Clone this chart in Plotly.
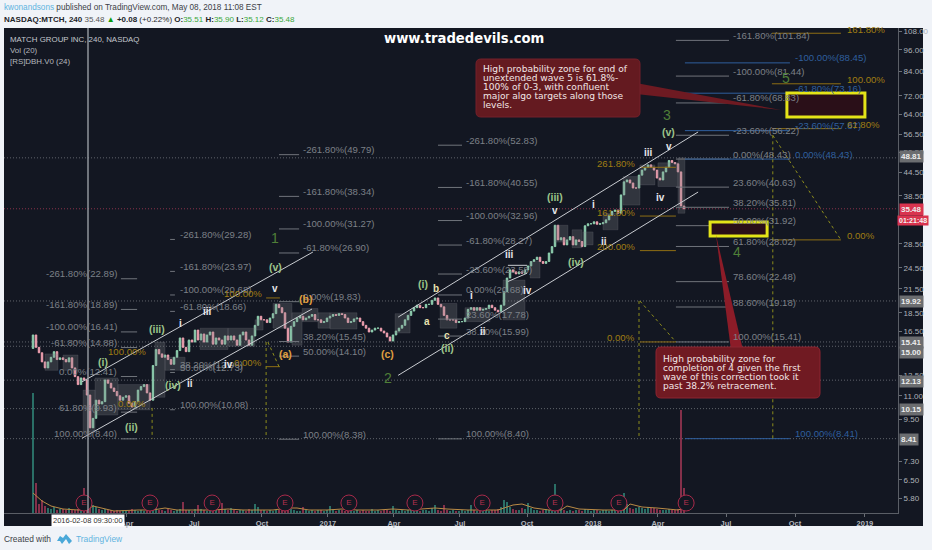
import math
import plotly.graph_objects as go

W, H = 932, 550
X_RANGE = [-9.67, 288.33]

closes = [
 16.1,14.9,14.4,13.6,13.1,13.6,14.0,14.5,13.8,13.95,
 13.8,13.6,13.95,13.1,12.4,11.8,12.3,12.15,11.05,9.0,
 9.55,10.7,10.45,10.6,12.15,11.9,11.55,11.3,11.0,10.7,
 10.9,11.0,10.5,10.25,10.6,11.4,11.65,11.8,11.2,10.7,
 13.3,14.7,14.3,14.0,14.2,13.8,13.4,14.0,14.6,15.8,
 14.9,14.5,15.6,15.4,16.6,15.6,16.2,15.4,16.1,16.4,
 15.2,15.8,15.6,15.2,16.0,15.6,16.0,15.6,15.1,16.1,
 16.4,15.6,15.1,16.0,17.1,18.1,17.7,17.7,17.4,17.9,
 18.4,19.5,19.1,18.5,16.8,15.4,17.0,17.5,17.9,18.1,
 17.7,17.9,18.1,18.3,17.7,17.7,17.4,17.5,17.9,18.1,
 18.3,18.2,18.4,18.3,17.9,17.4,17.5,17.8,17.9,17.5,
 17.1,16.8,16.4,16.6,16.8,16.8,16.5,16.3,15.9,15.5,
 16.1,16.5,16.8,17.1,17.7,18.2,18.7,19.1,19.4,19.1,
 19.1,19.5,19.5,20.0,20.3,19.5,19.2,18.2,17.7,17.7,
 17.7,17.4,17.5,17.5,17.9,18.9,19.1,18.8,19.1,18.8,
 18.9,19.0,19.4,19.1,18.8,18.6,19.4,21.1,23.0,24.2,
 23.9,23.6,23.9,23.7,24.2,24.8,25.5,25.8,26.2,25.5,
 25.2,25.5,26.9,28.0,32.0,29.2,29.6,28.3,29.2,29.8,
 28.3,29.2,28.9,28.0,31.9,32.3,32.3,32.7,32.2,32.3,
 32.5,33.1,34.1,34.9,35.2,34.5,38.7,42.0,42.5,41.7,
 40.4,40.4,43.8,45.2,46.0,46.7,46.0,45.2,43.0,42.5,
 44.7,46.0,48.0,47.4,47.0,44.7,36.1,35.48]
first_open = 14.8

volumes = [
 120,30,9,13,7,5,4,6,3,4, 4,3,5,3,3,4,4,25,6,9, 8,6,4,3,4,3,3,2,3,2,
 3,2,2,4,3,2,3,2,3,4, 7,5,3,3,2,4,3,2,3,4, 11,3,3,2,4,8,4,3,2,3,
 7,3,3,10,4,3,5,3,2,3, 3,2,4,3,9,6,3,3,2,3, 2,3,3,4,7,6,4,3,2,2,
 6,3,2,3,2,3,3,2,3,7, 4,2,3,3,2,3,2,2,3,2, 3,2,2,4,2,3,2,3,3,2,
 7,3,2,3,2,3,3,4,3,2, 3,3,2,5,8,3,2,8,3,2, 3,2,2,3,2,3,8,3,2,3,
 2,3,2,3,3,4,6,13,11,6, 4,3,3,5,4,10,5,3,3,2, 3,4,3,2,29,6,5,3,2,3,
 2,3,3,2,4,3,2,3,3,2, 3,3,2,3,3,3,5,20,9,5, 4,5,6,5,4,6,5,5,4,3,
 3,3,4,3,3,4,103,25]

vol_ma_bars = [0,3,6,10,15,18,20,23,27,35,40,44,48,55,60,65,70,75,80,85,88,92,98,103,108,115,120,125,134,138,145,155,160,163,167,172,176,178,182,190,197,199,203,208,212,215,217]
vol_ma_vals = [20,12,7,4,3,3,7,5,2,3,3,5,3,3,3,4,3,3,3,5,5,3,3,4,3,3,4,3,5,4,3,3,8,9,5,3,3,7,4,3,3,9,6,5,4,3,5]

cloud_start = [4,10,16.7,20.7,28.3,40.7,44,55.7,65,74,80,86.3,89.7,95,99,120.7,135.7,144,156.7,165.7,174,179.7,183.3,190,196.7,202.3,208.3,215]
cloud_end   = [8.3,15,20.7,28.3,39,44,50.7,65,74,76.7,86.3,89.7,95,99,108,125.7,141.3,152.3,164,169,178.3,183,186.7,195,202.3,207.3,215,217.3]
cloud_top   = [14.3,14.2,11.4,12.3,11.8,15.4,14,16.8,16.8,17.7,19.6,18.5,19,18.5,18.5,18.4,19.6,19.1,22.7,25.5,32,31.1,30.7,34.5,43.4,46.7,47.3,48.8]
cloud_low   = [12.9,12.9,8.75,9.75,10.07,10.9,12.9,14.7,15,16.6,16.8,15.1,17.5,16.8,16.7,16.3,16.8,17.5,17.7,23,28.8,27.8,28.3,31.1,36.3,41.2,40.8,34.5]

earn_bars = [17,39,59.7,84,105.3,127.3,149.7,174,195.3,217.7]

levels_grey = [48.81,19.92,15.41,15.0,12.13,10.15,8.41]
level_last = 35.48

ytick_vals = [108,96,84,72,64,56.5,50.5,44.5,38.5,28.5,24.5,21.5,18.5,16.5,12.5,11,9.5,7.3,6.5,5.8]
ytick_text = ["108.00","96.00","84.00","72.00","64.00","56.50","50.50","44.50","38.50","28.50","24.50","21.50","18.50","16.50","12.50","11.00","9.50","7.30","6.50","5.80"]
xtick_vals = [31.3,53.7,76.3,98.3,120.3,142.3,164.7,186.7,208.3,231,254,277.3]
xtick_text = ["Apr","Jul","Oct","2017","Apr","Jul","Oct","2018","Apr","Jul","Oct","2019"]

fib_a_pct = ["-261.80","-161.80","-100.00","-61.80","0.00","61.80","100.00"]
fib_a_val = [22.89,18.89,16.41,14.88,12.41,9.93,8.40]
fib_b_pct = ["-261.80","-161.80","-100.00","-61.80","38.20","50.00","100.00"]
fib_b_val = [29.28,23.97,20.68,18.66,12.96,12.73,10.08]
fib_c_pct = ["-261.80","-161.80","-100.00","-61.80","0.00","38.20","50.00","100.00"]
fib_c_val = [49.79,38.34,31.27,26.90,19.83,15.45,14.10,8.38]
fib_d_pct = ["-261.80","-161.80","-100.00","-61.80","-23.60","0.00","23.60","38.20","100.00"]
fib_d_val = [52.83,40.55,32.96,28.27,23.58,20.68,17.78,15.99,8.40]
fib_e_pct = ["-161.80","-100.00","-61.80","-23.60","0.00","23.60","38.20","50.00","61.80","78.60","88.60","100.00"]
fib_e_val = [101.84,81.44,68.83,56.22,48.43,40.63,35.81,31.92,28.02,22.48,19.18,15.41]
fib_f_pct = ["-100.00","-61.80","-23.60","0.00","100.00"]
fib_f_val = [88.45,73.16,57.87,48.43,8.41]

GREY, BLUE, ORANGE = "#70747b", "#2f5f9e", "#8f6f14"
fib_groups = [
 (fib_a_pct, fib_a_val, 29.3, 34.7, 28.7, "right", GREY),
 (fib_b_pct, fib_b_val, 45.7, 47.3, 48.2, "left", GREY),
 (fib_c_pct, fib_c_val, 82, 88.7, 89.2, "left", GREY),
 (fib_d_pct, fib_d_val, 135, 143, 143.8, "left", GREY),
 (fib_e_pct, fib_e_val, 214.3, 232, 232.5, "left", GREY),
 (fib_f_pct, fib_f_val, 217.3, 252.3, 253.2, "left", BLUE),
]

orange_levels = [
 ("161.80%",106.5,246.3,269.3,270.7,"left"),
 ("100.00%",77.6,246.3,269.3,270.7,"left"),
 ("61.80%",58.6,246.3,269.3,270.7,"left"),
 ("0.00%",29.2,246.3,269.3,270.7,"left"),
 ("261.80%",46.0,202.3,214.3,201.3,"right"),
 ("161.80%",33.9,202.3,214.3,201.3,"right"),
 ("200.00%",27.3,202.3,214.3,201.3,"right"),
 ("0.00%",15.41,202.3,214.3,201.3,"right"),
 ("100.00%",20.3,77.7,82.3,77,"right"),
 ("0.00%",13.2,77.7,82.3,77,"right"),
 ("100.00%",14.2,38.5,38.5,38.3,"right"),
 ("0.00%",10.2,38.5,38.5,38.3,"right"),
]

dash_legs = [
 (39.7,10.2,39.7,8.41),(77.7,15.4,77.7,8.41),(202,19.92,202,8.41),(246.6,56.2,246.6,8.41),
 (78.3,15.4,82,13.2),(202.3,19.92,214.3,15.41),(246.6,56.2,269.3,29.2),
]

channels = [
 (16.3,12.0,93.3,27.06),(16.3,8.43,93,18.94),
 (121.7,18.0,221.7,57.4),(121.7,12.5,221.7,39.4),
 (158.3,22.5,164.7,23.7),(158.3,24.9,164.7,24.9),
]

zones = [(251.3,277.3,73.2,63.0),(225.7,244.7,32.65,29.9)]

wave_green = [("(i)",23.3,13.6),("(ii)",32.7,9.05),("(iii)",41.3,16.7),("(iv)",46.7,11.8),("(v)",80.7,24.6),
              ("(i)",130,22.2),("(ii)",138.3,14.8),("(iii)",174,38.2),("(iv)",181,25.5),("(v)",211.7,57.3)]
wave_major = [("1",80.7,29.6),("2",118.3,12.3),("3",211.3,64),("4",234.7,27),("5",251,80.5)]
wave_white = [("i",49,17.3),("iii",58,18.6),("v",80.7,21.6),("iv",65,13.4),("ii",52.3,11.9),
              ("i",146.3,20.6),("iii",158.7,26.6),("iv",164.7,21.3),("ii",150,16.5),
              ("i",186.7,36.5),("iii",205,50.5),("v",212,52.4),("iv",209,38),("ii",190.3,28.9),("v",174,35.2)]
wave_pale = [("a",131.3,17.5),("b",134.3,21.6),("c",138,16)]
wave_orange = [("(a)",84.3,14.3),("(b)",90.7,20.2),("(c)",118.3,14.3)]

note1_lines = ["High probability zone for end of","unextended wave 5 is 61.8%-","100% of 0-3, with confluent","major algo targets along those","levels."]
note2_lines = ["High probability zone for","completion of 4 given the first","wave of this correction took it","past 38.2% retracement."]

tags = [("48.81",157,"#6b6d70"),("19.92",301,"#6b6d70"),("15.41",342,"#6b6d70"),("15.00",352.5,"#6b6d70"),
        ("12.13",381,"#6b6d70"),("10.15",409,"#6b6d70"),("8.41",439,"#6b6d70"),("35.48",209,"#d9344f")]

SANS = "Liberation Sans"
def fx(p): return p / W
def fy(p): return 1 - p / H
def ylog(v): return math.log10(v)
def seg_xy(segs):
    xs, ys = [], []
    for a, b, c, d in segs:
        xs += [a, c, None]; ys += [b, d, None]
    return xs, ys

bars = list(range(len(closes)))
opens = [first_open] + closes[:-1]
highs = [max(o, c) for o, c in zip(opens, closes)]
lows = [min(o, c) for o, c in zip(opens, closes)]
vol_colors = ["#2a6f66" if c >= o else "#84304a" for o, c in zip(opens, closes)]

fig = go.Figure()

cx, cy = [], []
for a, b, t, l in zip(cloud_start, cloud_end, cloud_top, cloud_low):
    cx += [a, b, b, a, a, None]; cy += [t, t, l, l, t, None]
fig.add_trace(go.Scatter(x=cx, y=cy, mode="lines", fill="toself", fillcolor="rgba(130,132,138,0.28)",
                         line=dict(color="rgba(130,132,138,0.2)", width=1), hoverinfo="skip"))

lx, ly = [], []
for v in levels_grey:
    lx += [X_RANGE[0], X_RANGE[1], None]; ly += [v, v, None]
fig.add_trace(go.Scatter(x=lx, y=ly, mode="lines", line=dict(color="#74777d", width=0.8, dash="1px,2px"), hoverinfo="skip"))
fig.add_trace(go.Scatter(x=X_RANGE, y=[level_last, level_last], mode="lines",
                         line=dict(color="#a83a55", width=0.8, dash="1px,2px"), hoverinfo="skip"))

fig.add_trace(go.Candlestick(x=bars, open=opens, high=highs, low=lows, close=closes,
    increasing=dict(line=dict(color="#8fd0b0", width=1), fillcolor="#8fd0b0"),
    decreasing=dict(line=dict(color="#f0a0b0", width=1), fillcolor="#f0a0b0"), whiskerwidth=0))

fig.add_trace(go.Bar(x=bars, y=volumes, yaxis="y2", width=0.4, marker=dict(color=vol_colors, line=dict(width=0))))
fig.add_trace(go.Scatter(x=vol_ma_bars, y=vol_ma_vals, yaxis="y2", mode="lines",
                         line=dict(color="#b98a45", width=1), hoverinfo="skip"))

annotations = []
def label(text, x, y, color, size=10, anchor="left", yshift=0, font=SANS, bold=False, xref="x", yref="y"):
    t = f"<b>{text}</b>" if bold else text
    annotations.append(dict(text=t, x=x, y=y, xref=xref, yref=yref, xanchor=anchor, yanchor="middle",
                            showarrow=False, yshift=yshift, font=dict(family=font, size=size, color=color)))

for pct, val, x0, x1, xl, anchor, col in fib_groups:
    xs, ys = [], []
    for p, v in zip(pct, val):
        xs += [x0, x1, None]; ys += [v, v, None]
        label(f"{p}%({v:.2f})", xl, ylog(v), col if col != GREY else "#7c8087", 9.6, anchor, 5)
    fig.add_trace(go.Scatter(x=xs, y=ys, mode="lines", line=dict(color=col, width=1), hoverinfo="skip"))

xs, ys = [], []
for txt, v, x0, x1, xl, anchor in orange_levels:
    if x1 > x0:
        xs += [x0, x1, None]; ys += [v, v, None]
    label(txt, xl, ylog(v), "#a07d12", 9.6, anchor, 4)
fig.add_trace(go.Scatter(x=xs, y=ys, mode="lines", line=dict(color=ORANGE, width=1), hoverinfo="skip"))

xs, ys = seg_xy(dash_legs)
fig.add_trace(go.Scatter(x=xs, y=ys, mode="lines", line=dict(color="#8d8d1c", width=1, dash="3px,3px"), hoverinfo="skip"))
xs, ys = seg_xy(channels)
fig.add_trace(go.Scatter(x=xs, y=ys, mode="lines", line=dict(color="#c9ccd1", width=1), hoverinfo="skip"))

fig.add_trace(go.Scatter(x=earn_bars, y=[10] * len(earn_bars), yaxis="y2", mode="markers+text", text=["E"] * len(earn_bars),
                         textposition="middle center", textfont=dict(family=SANS, size=8, color="#b3314f"),
                         marker=dict(size=16, color="#131722", line=dict(color="#a82a4a", width=1)), hoverinfo="skip"))

for t, x, y in wave_green: label(t, x, ylog(y), "#9cc48a", 10.5, "center", bold=True)
for t, x, y in wave_major: label(t, x, ylog(y), "#4f7f38", 14, "center")
for t, x, y in wave_white: label(t, x, ylog(y), "#e4e6ea", 10, "center", bold=True)
for t, x, y in wave_pale: label(t, x, ylog(y), "#e8e2b0", 10, "center", bold=True)
for t, x, y in wave_orange: label(t, x, ylog(y), "#e0a040", 10.5, "center", bold=True)

shapes = []
for x0, x1, y0, y1 in zones:
    shapes.append(dict(type="rect", xref="x", yref="y", x0=x0, x1=x1, y0=y0, y1=y1,
                       fillcolor="#2a0f18", line=dict(color="#e4e418", width=3)))

def round_rect(x0, y0, x1, y1, r=5):
    return (f"M {fx(x0+r)} {fy(y0)} L {fx(x1-r)} {fy(y0)} Q {fx(x1)} {fy(y0)} {fx(x1)} {fy(y0+r)} "
            f"L {fx(x1)} {fy(y1-r)} Q {fx(x1)} {fy(y1)} {fx(x1-r)} {fy(y1)} L {fx(x0+r)} {fy(y1)} "
            f"Q {fx(x0)} {fy(y1)} {fx(x0)} {fy(y1-r)} L {fx(x0)} {fy(y0+r)} Q {fx(x0)} {fy(y0)} {fx(x0+r)} {fy(y0)} Z")
def poly(pts):
    return "M " + " L ".join(f"{fx(a)} {fy(b)}" for a, b in pts) + " Z"

shapes += [
 dict(type="path", xref="paper", yref="paper", path=poly([(636,83),(636,94),(781,110)]), fillcolor="#6e1a22", line=dict(width=0)),
 dict(type="path", xref="paper", yref="paper", path=round_rect(476,59,640,117), fillcolor="#641a20", line=dict(color="#74202a", width=1)),
 dict(type="path", xref="paper", yref="paper", path=poly([(731,350),(743,350),(716,235)]), fillcolor="#8c1c28", line=dict(width=0)),
 dict(type="path", xref="paper", yref="paper", path=round_rect(656,347,820,398), fillcolor="#701a22", line=dict(color="#8c2430", width=1)),
 dict(type="line", xref="x", yref="paper", x0=18.33, x1=18.33, y0=fy(513), y1=fy(28), line=dict(color="#a4a8ae", width=1.3)),
 dict(type="rect", xref="paper", yref="paper", x0=fx(4), x1=fx(923), y0=fy(526), y1=fy(28),
      fillcolor="#131722", line=dict(width=0), layer="below"),
 dict(type="path", xref="paper", yref="paper", layer="above",
      path=poly([(57,541),(60,536),(63,538),(66,534),(72,541),(69,544),(66,539),(62,544),(60,541)]),
      fillcolor="#4aa8d8", line=dict(width=0)),
]

for i, t in enumerate(note1_lines):
    label(t, fx(481), fy(69.5 + 9 * i), "#f2e6e6", 9.1, font="DejaVu Sans", xref="paper", yref="paper")
for i, t in enumerate(note2_lines):
    label(t, fx(661), fy(358.5 + 9 * i), "#f2e6e6", 9.1, font="DejaVu Sans", xref="paper", yref="paper")

label("www.tradedevils.com", fx(464), fy(38.5), "#ffffff", 13.2, "center", font="DejaVu Sans", bold=True, xref="paper", yref="paper")
label("MATCH GROUP INC, 240, NASDAQ", fx(8), fy(39), "#c4c8ce", 7.9, xref="paper", yref="paper")
label("Vol (20)", fx(8), fy(50), "#b4b8be", 7.9, xref="paper", yref="paper")
label("[RS]DBH.V0 (24)", fx(8), fy(61), "#b4b8be", 7.9, xref="paper", yref="paper")

G = "#3aa83a"
label('<span style="color:#5fb4e0">kwonandsons</span> published on TradingView.com, May 08, 2018 11:08 EST',
      fx(2), fy(7.5), "#3c3f46", 8.2, xref="paper", yref="paper")
label(f'<b>NASDAQ:MTCH, 240</b> <span style="color:#555">35.48</span> <span style="color:#0a9a0a">▲</span> <b>+0.08</b> (+0.22%) '
      f'<b>O:</b><span style="color:{G}">35.51</span> <b>H:</b><span style="color:{G}">35.90</span> '
      f'<b>L:</b><span style="color:{G}">35.12</span> <b>C:</b><span style="color:{G}">35.48</span>',
      fx(2), fy(19), "#222428", 8.0, xref="paper", yref="paper")
label("Created with", fx(2), fy(539), "#3c3f46", 8.4, xref="paper", yref="paper")
label("TradingView", fx(74), fy(539), "#5fb4e0", 8.4, xref="paper", yref="paper")

for t, py, col in tags:
    annotations.append(dict(text=f"<b>{t}</b>", x=fx(899), y=fy(py), xref="paper", yref="paper", xanchor="left", yanchor="middle",
                            showarrow=False, bgcolor=col, borderpad=1, font=dict(family=SANS, size=8, color="#ececec")))
annotations.append(dict(text="<b>01:21:48</b>", x=fx(897), y=fy(220), xref="paper", yref="paper", xanchor="left", yanchor="middle",
                        showarrow=False, bgcolor="#d9344f", borderpad=1, font=dict(family=SANS, size=7, color="#f4f4f4")))
annotations.append(dict(text="2016-02-08 09:30:00", x=fx(87.5), y=fy(520), xref="paper", yref="paper", xanchor="center", yanchor="middle",
                        showarrow=False, bgcolor="#ffffff", borderpad=1, font=dict(family=SANS, size=7.5, color="#333333")))

fig.update_layout(
    width=W, height=H, margin=dict(l=0, r=0, t=0, b=0), autosize=False, showlegend=False,
    paper_bgcolor="#f0f3f8", plot_bgcolor="#131722", bargap=0, annotations=annotations, shapes=shapes,
    xaxis=dict(domain=[fx(4), fx(898)], range=X_RANGE, tickmode="array", tickvals=xtick_vals, ticktext=[f"<b>{t}</b>" for t in xtick_text],
               showgrid=False, zeroline=False, ticks="outside", ticklen=3, tickcolor="#6a6e75",
               showline=True, linecolor="#5a5e66", tickfont=dict(family=SANS, size=7.5, color="#b4b8be"),
               rangeslider=dict(visible=False), anchor="y"),
    yaxis=dict(domain=[fy(513), fy(28)], type="log", range=[math.log10(5.28), math.log10(110.05)], side="right",
               tickmode="array", tickvals=ytick_vals, ticktext=ytick_text, showgrid=False, zeroline=False,
               ticks="outside", ticklen=3, tickcolor="#6a6e75", showline=True, linecolor="#5a5e66",
               tickfont=dict(family=SANS, size=8, color="#aeb2b8"), anchor="x"),
    yaxis2=dict(domain=[fy(513), fy(28)], overlaying="y", range=[0, 485], visible=False, anchor="x", side="left"),
)

fig.write_html("out.html", config={"displayModeBar": False},
               post_script="document.body.style.margin='0';document.body.style.overflow='hidden';")
